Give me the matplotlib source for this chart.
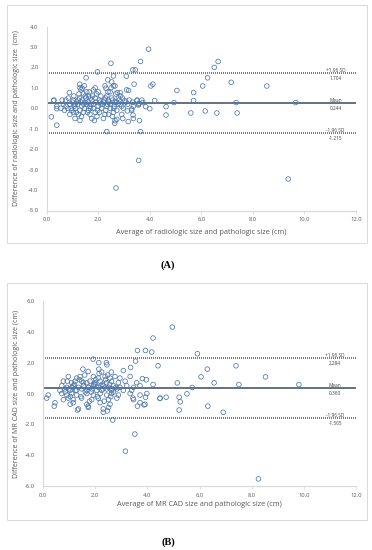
import matplotlib
matplotlib.use("Agg")
import matplotlib.pyplot as plt
from matplotlib.patches import Rectangle

# ---------------- Data: panel A (radiologic vs pathologic) ----------------
a_x = [
    # sparse points
    3.95, 2.49, 3.64, 3.34, 3.44, 6.65, 6.50, 6.24, 6.05, 5.70, 5.70, 7.16, 8.54, 9.66, 7.35,
    7.39, 6.60, 6.15, 5.59, 5.05, 4.94, 4.63, 4.63, 4.19, 4.12, 4.04, 4.00, 3.84, 3.73, 3.60,
    3.39, 3.09, 2.59, 2.37, 2.52, 2.65, 2.30, 2.85, 2.74, 3.18, 1.97, 1.53, 1.28, 1.38, 0.88,
    0.39, 0.18, 0.27, 0.39, 3.16, 2.64, 2.72, 3.35, 3.30, 3.13, 3.03, 3.50, 3.58, 3.56,
    2.33, 3.64, 3.57, 2.69, 9.37,
    # dense cluster
    0.28, 0.74, 0.84, 1.03, 1.16, 1.27, 1.38, 1.49, 1.75, 1.88, 2.07, 2.24, 2.39, 2.52, 2.65,
    2.81, 2.94, 3.08, 3.20, 3.33, 3.51, 3.69,
    0.39, 0.65, 0.75, 0.90, 1.07, 1.20, 1.36, 1.55, 1.68, 1.81, 2.00, 2.16, 2.33, 2.46, 2.63,
    2.76, 2.91, 3.14, 3.36, 3.56,
    0.69, 0.82, 0.97, 1.12, 1.29, 1.46, 1.62, 1.81, 1.98, 2.13, 2.29, 2.47, 2.72, 2.98, 3.30,
    0.90, 1.03, 1.23, 1.42, 1.68, 1.88, 2.26, 2.59, 2.91,
    1.10, 1.29, 1.75, 1.85, 2.20, 2.65, 3.36,
    1.42, 1.62, 1.94, 2.33, 2.68, 2.86,
    1.33, 1.55, 1.81, 2.00, 2.46, 3.10,
    1.29, 1.46, 1.88, 2.26, 2.50, 2.59,
    1.00, 1.10, 1.22, 1.32, 1.44, 1.52, 1.60, 1.72, 1.78, 1.92, 2.04, 2.10, 2.20, 2.28, 2.36,
    2.42, 2.56, 2.60, 2.70, 2.85, 1.15, 1.35, 1.58, 1.70, 1.95, 2.05, 2.40, 2.55, 0.55, 0.60,
    0.95, 1.05, 1.25, 1.50, 1.65, 1.70, 2.10, 2.38, 2.78, 2.95,
]
a_y = [
    2.89, 2.20, 2.29, 1.88, 1.88, 2.29, 2.00, 1.49, 1.09, 0.77, 0.38, 1.27, 1.09, 0.28, 0.28,
    -0.23, -0.23, -0.13, -0.23, 0.87, 0.28, 0.08, -0.33, 0.38, 1.18, 1.09, -0.02, 0.08, 0.28, -0.60,
    1.18, 1.57, 1.58, 1.39, 1.29, 1.09, 0.98, 0.77, 0.77, 0.87, 1.78, 1.49, 1.18, 0.98, 0.77,
    -0.83, -0.42, 0.38, -0.02, -0.65, -0.73, -0.54, -0.33, -0.03, -0.13, 0.38, 0.38, 0.25, 0.16,
    -1.14, -1.14, -2.55, -3.90, -3.46,
    0.4, 0.4, 0.5, 0.4, 0.3, 0.5, 0.4, 0.3, 0.4, 0.5, 0.3, 0.4, 0.4, 0.5, 0.3,
    0.4, 0.5, 0.3, 0.4, 0.3, 0.4, 0.4,
    0.1, 0.2, 0.1, 0.2, 0.1, 0.2, 0.1, 0.2, 0.1, 0.2, 0.1, 0.2, 0.1, 0.2, 0.1,
    0.2, 0.1, 0.2, 0.1, 0.2,
    -0.1, 0.0, -0.1, 0.0, -0.1, 0.0, -0.1, 0.0, -0.1, 0.0, -0.1, 0.0, -0.1, 0.0, -0.1,
    -0.3, -0.2, -0.3, -0.2, -0.3, -0.2, -0.3, -0.2, -0.3,
    -0.5, -0.6, -0.5, -0.6, -0.5, -0.6, -0.5,
    0.7, 0.6, 0.7, 0.6, 0.7, 0.6,
    0.9, 0.8, 0.9, 0.8, 0.8, 0.9,
    1.0, 1.1, 1.0, 1.1, 1.0, 1.1,
    0.3, 0.2, 0.4, 0.3, 0.2, 0.5, 0.3, 0.2, 0.6, 0.3, 0.4, 0.2, 0.3, 0.5, 0.2,
    0.3, 0.4, 0.0, 0.3, 0.2, -0.2, -0.4, -0.2, 0.0, -0.4, -0.2, -0.3, -0.4, 0.0, 0.4,
    0.0, 0.6, 0.7, 0.6, 0.8, 0.5, 0.6, 0.8, 0.5, -0.5,
]
a_mean, a_upper, a_lower = 0.244, 1.704, -1.215

# ---------------- Data: panel B (MR CAD vs pathologic) ----------------
b_x = [
    # sparse points
    4.96, 4.22, 3.62, 3.93, 4.17, 5.92, 3.55, 4.41, 7.40, 3.36, 6.30, 8.53, 6.06, 3.81, 3.96,
    5.15, 6.56, 7.51, 9.81, 4.22, 5.72, 5.52, 5.22, 4.72, 4.48, 5.26, 3.93, 3.87, 3.62, 6.32,
    5.22, 6.91, 0.43, 1.73, 1.32, 2.31, 2.47, 3.45, 1.92, 2.14, 2.43, 2.45, 1.53, 1.73, 2.14,
    2.25, 2.62, 3.08, 0.93, 2.67, 3.52, 3.16, 8.26,
    # dense cluster
    0.97, 1.29, 1.42, 1.93, 2.12, 2.38, 2.57, 2.76, 2.95, 3.34,
    0.78, 1.10, 1.23, 1.48, 1.68, 1.80, 1.99, 2.19, 2.44, 2.63, 2.89, 3.15, 3.59,
    0.72, 0.91, 1.16, 1.36, 1.55, 1.74, 1.93, 2.12, 2.31, 2.51, 2.70, 2.95, 3.21, 3.47, 3.72,
    0.65, 0.84, 1.04, 1.29, 1.48, 1.68, 1.87, 2.06, 2.25, 2.44, 2.63, 2.83, 3.08, 3.40,
    0.20, 0.72, 0.91, 1.10, 1.29, 1.68, 1.93, 2.19, 2.44, 2.63, 2.89, 3.34, 3.72, 3.98,
    0.14, 0.78, 0.97, 1.16, 1.48, 1.87, 2.12, 2.51, 2.83, 3.47, 4.49,
    0.46, 1.04, 1.16, 1.68, 2.19, 2.57, 3.72, 3.91,
    1.36, 1.74, 2.31, 2.51,
    1.00, 1.20, 1.40, 1.60, 1.75, 1.85, 2.00, 2.15, 2.30, 2.40, 2.55, 2.70, 2.80, 1.05, 1.25,
    1.45, 1.62, 1.78, 1.95, 2.08, 2.22, 2.35, 2.48, 2.65, 0.85, 1.12, 1.55, 2.02, 2.28, 2.60,
]
b_y = [
    4.31, 3.60, 2.79, 2.79, 2.69, 2.58, 2.10, 1.80, 1.80, 1.69, 1.58, 1.08, 1.08, 0.97, 0.89,
    0.69, 0.69, 0.58, 0.58, 0.58, 0.39, -0.02, -0.24, -0.24, -0.32, -0.54, -0.24, -0.74, -0.82, -0.82,
    -1.07, -1.22, -0.82, -0.82, -1.07, -1.22, -1.13, -0.30, 2.23, 2.00, 2.00, 1.86, 1.58, 1.43, 1.58,
    1.39, 1.39, 1.49, 0.80, -1.72, -2.63, -3.74, -5.54,
    1.1, 1.0, 1.1, 1.1, 1.0, 1.1, 1.0, 1.1, 1.0, 1.1,
    0.8, 0.7, 0.8, 0.8, 0.7, 0.8, 0.7, 0.8, 0.7, 0.8, 0.7, 0.8, 0.7,
    0.5, 0.4, 0.5, 0.4, 0.5, 0.4, 0.5, 0.4, 0.5, 0.4, 0.5, 0.4, 0.5, 0.4, 0.5,
    0.2, 0.3, 0.2, 0.2, 0.3, 0.2, 0.3, 0.2, 0.2, 0.3, 0.2, 0.3, 0.2, 0.2,
    -0.1, 0.0, -0.1, 0.0, -0.1, 0.0, -0.1, 0.0, -0.1, 0.0, -0.1, 0.0, -0.1, 0.0,
    -0.3, -0.4, -0.3, -0.4, -0.3, -0.4, -0.3, -0.4, -0.3, -0.4, -0.3,
    -0.6, -0.7, -0.6, -0.7, -0.6, -0.7, -0.6, -0.7,
    -1.0, -0.9, -1.0, -0.9,
    0.3, 0.6, 0.9, 1.2, 0.4, 0.1, 0.6, 1.3, 0.3, 0.9, 0.6, 0.1, 0.4, -0.2, 0.2,
    -0.2, 0.1, -0.5, 0.6, -0.2, 0.5, -0.5, 1.2, 0.3, 0.1, 0.4, 0.7, 0.9, 0.6, -0.2,
]
b_mean, b_upper, b_lower = 0.360, 2.284, -1.565

# ---------------- Styling ----------------
plt.rcParams['font.family'] = ['Open Sans', 'DejaVu Sans']
GREY_TXT = '#595959'
MARK = '#4f78ad'
LINE = '#56677a'
AXL = '#d9d9d9'

fig = plt.figure(figsize=(3.72, 5.5), dpi=100)


def panel(rect, box, xs, ys, mean, up, lo, ylim, yticks, ylabel, xlabel, tag, tagy, xlaby):
    fig.patches.append(Rectangle((box[0], box[1]), box[2], box[3], transform=fig.transFigure,
                                 fill=False, edgecolor=AXL, lw=0.7))
    ax = fig.add_axes(rect)
    ax.scatter(xs, ys, s=11, facecolors='none', edgecolors=MARK, linewidths=0.55, zorder=3)
    ax.axhline(mean, color=LINE, lw=1.3, zorder=2)
    ax.axhline(up, color=LINE, lw=1.2, ls=(0, (0.6, 0.6)), zorder=2)
    ax.axhline(lo, color=LINE, lw=1.2, ls=(0, (0.6, 0.6)), zorder=2)
    fs = 3.4
    xt = 11.2
    col = '#404040'
    ax.text(xt, up, '+1.96 SD', fontsize=fs, ha='center', va='bottom', color=col)
    ax.text(xt, up, '\n' + f'{up:.3f}', fontsize=fs, ha='center', va='top', color=col,
            linespacing=0.5)
    ax.text(xt, mean, 'Mean', fontsize=fs, ha='center', va='bottom', color=col)
    ax.text(xt, mean, '\n' + f'{mean:.3f}', fontsize=fs, ha='center', va='top', color=col,
            linespacing=0.5)
    ax.text(xt, lo, '-1.96 SD', fontsize=fs, ha='center', va='bottom', color=col)
    ax.text(xt, lo, '\n' + f'{lo:.3f}', fontsize=fs, ha='center', va='top', color=col,
            linespacing=0.5)
    ax.set_xlim(0, 12)
    ax.set_ylim(*ylim)
    ax.set_xticks([0, 2, 4, 6, 8, 10, 12])
    ax.set_xticklabels([f'{v:.1f}' for v in [0, 2, 4, 6, 8, 10, 12]])
    ax.set_yticks(yticks)
    ax.set_yticklabels([f'{v:.1f}' for v in yticks])
    for s in ['top', 'right']:
        ax.spines[s].set_visible(False)
    for s in ['left', 'bottom']:
        ax.spines[s].set_color(AXL)
        ax.spines[s].set_linewidth(0.8)
    ax.tick_params(axis='both', labelsize=4.2, colors=GREY_TXT, length=2, width=0.6,
                   color=AXL, pad=3)
    ax.tick_params(axis='y', length=0, pad=6)
    ax.set_facecolor('none')
    fig.text(17 / 372, rect[1] + rect[3] / 2, ylabel, rotation=90, ha='center', va='center',
             fontsize=5.1, color=GREY_TXT)
    fig.text(rect[0] + rect[2] / 2, 1 - xlaby / 550, xlabel, ha='center', va='center',
             fontsize=5.3, color=GREY_TXT)
    fig.text(168 / 372, 1 - tagy / 550, tag, ha='center', va='center', fontsize=7.5,
             fontweight='bold', family='Liberation Serif', color='black')
    return ax


panel([46.7 / 372, 1 - 210.5 / 550, 309.3 / 372, 184 / 550],
      [7 / 372, 1 - 243 / 550, 360 / 372, 238 / 550],
      a_x, a_y, a_mean, a_upper, a_lower, (-5, 4), list(range(-5, 5)),
      'Difference of radiologic size and pathologic size  (cm)',
      'Average of radiologic size and pathologic size (cm)', '(A)', 265, 232)

panel([43 / 372, 1 - 486 / 550, 313 / 372, 185 / 550],
      [7 / 372, 1 - 520 / 550, 360 / 372, 237 / 550],
      b_x, b_y, b_mean, b_upper, b_lower, (-6, 6), [-6, -4, -2, 0, 2, 4, 6],
      'Difference of MR CAD size and pathologic size (cm)',
      'Average of MR CAD size and pathologic size (cm)', '(B)', 542, 505)

fig.savefig('out.png', dpi=100)
